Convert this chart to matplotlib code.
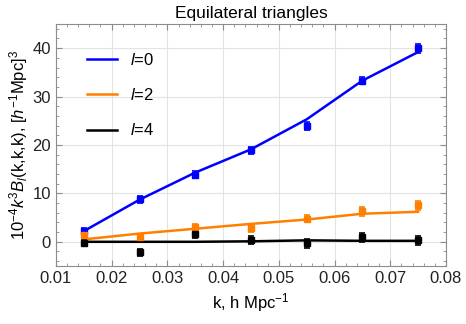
import numpy as np
import matplotlib.pyplot as plt
from matplotlib.ticker import MultipleLocator, FormatStrFormatter

plt.rcParams['font.family'] = ['Liberation Sans', 'DejaVu Sans']
plt.rcParams['mathtext.fontset'] = 'custom'
plt.rcParams['mathtext.it'] = 'Liberation Sans:italic'
plt.rcParams['mathtext.rm'] = 'Liberation Sans'

# data
k = [0.015, 0.025, 0.035, 0.045, 0.055, 0.065, 0.075]

fit0 = [2.2, 8.7, 14.3, 19.1, 25.3, 33.3, 39.2]
pts0 = [2.2, 8.8, 13.9, 18.9, 23.9, 33.3, 40.0]
err0 = [0.7, 0.7, 0.7, 0.7, 0.8, 0.8, 0.9]

fit2 = [0.5, 1.7, 2.7, 3.7, 4.6, 5.8, 6.2]
pts2 = [1.5, 1.0, 3.0, 2.9, 4.8, 6.3, 7.5]
err2 = [0.7, 0.7, 0.7, 0.8, 0.8, 0.9, 1.0]

fit4 = [0.0, 0.0, 0.0, 0.1, 0.3, 0.2, 0.2]
pts4 = [-0.2, -2.2, 1.6, 0.4, -0.3, 0.9, 0.3]
err4 = [0.5, 0.7, 0.8, 0.8, 0.9, 0.9, 1.0]

series = [
	("$l$=0", fit0, pts0, err0, '#0000ff'),
	("$l$=2", fit2, pts2, err2, '#ff8000'),
	("$l$=4", fit4, pts4, err4, '#000000'),
]

fig = plt.figure(figsize=(4.66, 3.24), dpi=100)
ax = fig.add_axes([0.120, 0.179, 0.837, 0.747])

for label, fit, pts, err, col in series:
	ax.plot(k, fit, color=col, lw=1.8, label=label, zorder=3)
	ax.errorbar(k, pts, yerr=err, fmt='s', ms=4, color=col, ecolor=col,
				elinewidth=1.2, capsize=2.5, capthick=1.2, zorder=4)

ax.set_xlim(0.01, 0.08)
ax.set_ylim(-5, 45)
ax.xaxis.set_major_locator(MultipleLocator(0.01))
ax.xaxis.set_minor_locator(MultipleLocator(0.002))
ax.xaxis.set_major_formatter(FormatStrFormatter('%.2f'))
ax.yaxis.set_major_locator(MultipleLocator(10))
ax.yaxis.set_minor_locator(MultipleLocator(2))

ax.grid(True, which='major', color='#e3e3e3', lw=0.8, zorder=0)
for s in ax.spines.values():
	s.set_color('#8c8c8c')
ax.tick_params(which='both', direction='in', top=True, right=True,
			   color='#8c8c8c', labelsize=12, labelcolor='#222222')
ax.tick_params(which='major', length=4)
ax.tick_params(which='minor', length=2)

ax.set_title('Equilateral triangles', fontsize=12.5, pad=4)
ax.set_xlabel('k, h Mpc$^{-1}$', fontsize=12)
ax.set_ylabel('10$^{-4}$$k^3B_l$(k,k,k), [$h^{-1}$Mpc]$^3$', fontsize=12, labelpad=2)

leg = ax.legend(loc='upper left', frameon=False, fontsize=12, handlelength=1.8,
				labelspacing=1.15, borderaxespad=1.0, bbox_to_anchor=(0.02, 0.98))

fig.savefig('out.png', dpi=100)
